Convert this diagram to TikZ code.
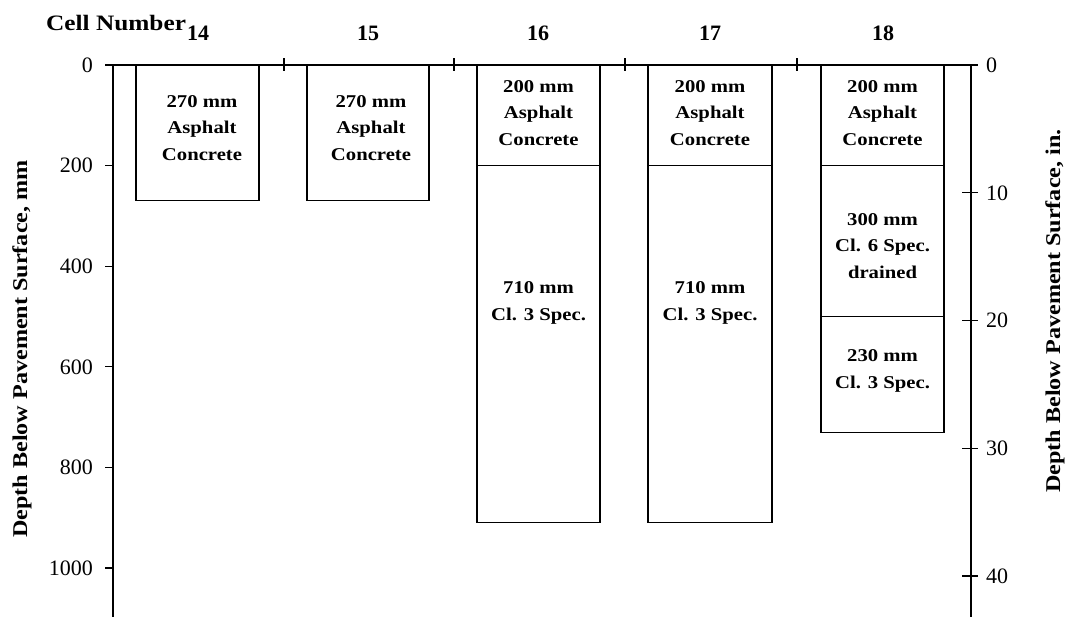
\documentclass[tikz,border=0pt]{standalone}
\usepackage{fontspec}
\setmainfont{Liberation Serif}
\newfontfamily\stretchfont[FakeStretch=1.15]{Liberation Serif}
\tikzset{
  axisline/.style={line width=1.6pt, line cap=rect},
  tickline/.style={line width=1.2pt},
  boxline/.style={line width=1.3pt},
  ticklab/.style={font=\fontsize{22}{24}\selectfont, inner sep=0pt},
  celllab/.style={font=\fontsize{22}{24}\selectfont\bfseries, inner sep=0pt},
  layertxt/.style={font=\stretchfont\fontsize{18}{26.5}\selectfont\bfseries, align=center, inner sep=0pt},
  axtitle/.style={font=\stretchfont\fontsize{21}{24}\selectfont\bfseries, inner sep=0pt, rotate=90}
}
\begin{document}
\begin{tikzpicture}[x=1pt,y=-1pt]
\useasboundingbox (0,0) rectangle (1071,616);
% axes
\coordinate (tl) at (113,65);
\coordinate (tr) at (971,65);
\coordinate (bl) at (113,618);
\coordinate (br) at (971,618);
\draw[axisline] (bl) -- (tl) -- (tr) -- (br);
% top ticks
\foreach \x in {284,454,625,797}{\draw[tickline] (\x,58) -- (\x,71);}
% left ticks and labels
\foreach \y/\l in {65/0,165.6/200,266.2/400,366.8/600,467.4/800,568/1000}{
  \draw[tickline] (105,\y) -- (113,\y);
  \node[ticklab, anchor=east] (L\l) at (93,\y) {\l};
}
% right ticks and labels
\foreach \y/\l in {65/0,192.8/10,320.5/20,448.3/30,576/40}{
  \draw[tickline] (962,\y) -- (978,\y);
  \node[ticklab, anchor=west] (R\l) at (986,\y) {\l};
}
% cell labels
\node[font=\stretchfont\fontsize{22}{24}\selectfont\bfseries, anchor=west, inner sep=0pt] (cellnum) at (46,23) {Cell Number};
\node[celllab] (c14) at (198,33) {14};
\node[celllab] (c15) at (368,33) {15};
\node[celllab] (c16) at (538,33) {16};
\node[celllab] (c17) at (710,33) {17};
\node[celllab] (c18) at (883,33) {18};
% boxes
\draw[boxline] (136,65) rectangle (259,200.8);
\draw[boxline] (307,65) rectangle (429,200.8);
\draw[boxline] (477,65) rectangle (600,165.6);
\draw[boxline] (477,165.6) rectangle (600,522.7);
\draw[boxline] (648,65) rectangle (772,165.6);
\draw[boxline] (648,165.6) rectangle (772,522.7);
\draw[boxline] (821,65) rectangle (944,165.6);
\draw[boxline] (821,165.6) rectangle (944,316.5);
\draw[boxline] (821,316.5) rectangle (944,432.2);
% layer texts
\node[layertxt] (t14) at (202,128) {270 mm\\Asphalt\\Concrete};
\node[layertxt] (t15) at (371,128) {270 mm\\Asphalt\\Concrete};
\node[layertxt] (t16a) at (538.5,113) {200 mm\\Asphalt\\Concrete};
\node[layertxt] (t17a) at (710,113) {200 mm\\Asphalt\\Concrete};
\node[layertxt] (t18a) at (882.5,113) {200 mm\\Asphalt\\Concrete};
\node[layertxt] (t16b) at (538.5,303) {710 mm\\Cl. 3 Spec.};
\node[layertxt] (t17b) at (710,303) {710 mm\\Cl. 3 Spec.};
\node[layertxt] (t18b) at (882.5,246) {300 mm\\Cl. 6 Spec.\\drained};
\node[layertxt] (t18c) at (882.5,371) {230 mm\\Cl. 3 Spec.};
% axis titles
\node[axtitle] (ytitleL) at (22,349) {Depth Below Pavement Surface, mm};
\node[axtitle] (ytitleR) at (1055,311) {Depth Below Pavement Surface, in.};
\end{tikzpicture}
\end{document}
